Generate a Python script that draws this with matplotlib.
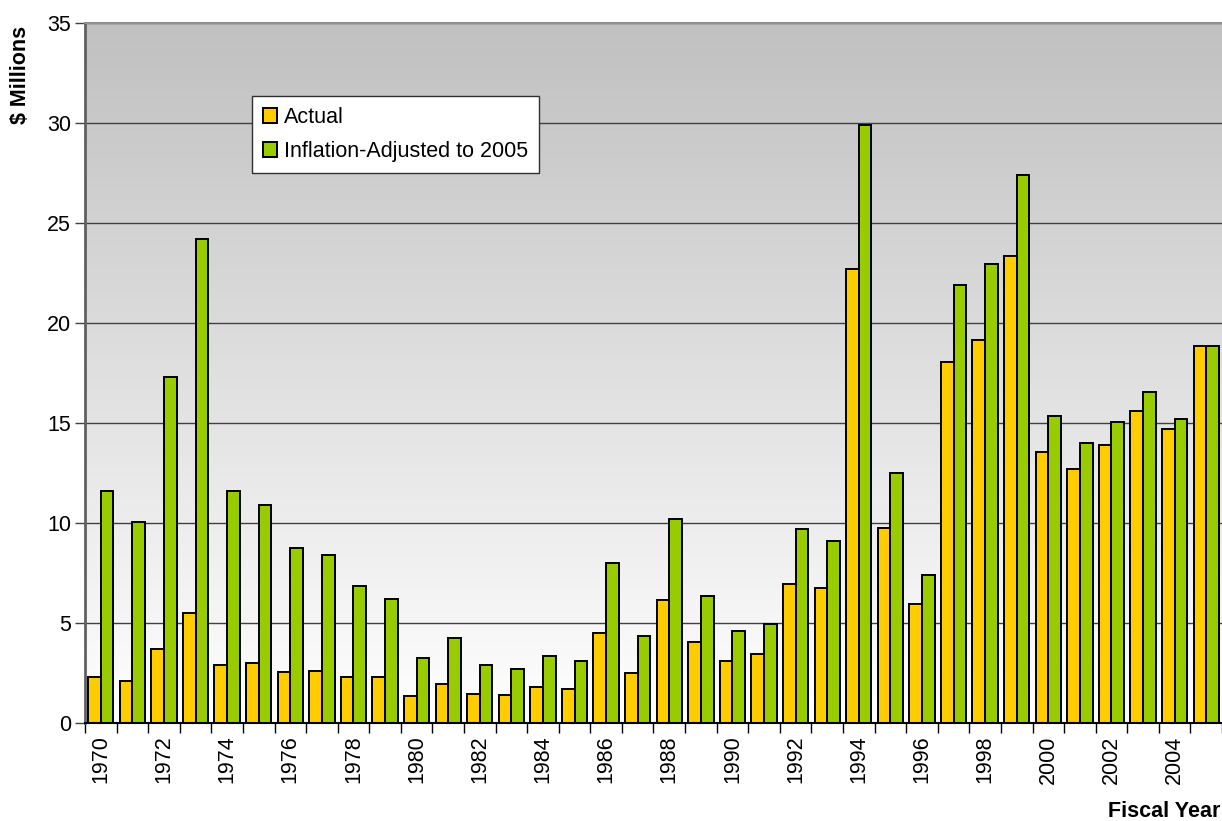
import matplotlib
matplotlib.use("Agg")
import matplotlib.pyplot as plt
import numpy as np

plt.rcParams['font.family'] = ['Liberation Sans', 'DejaVu Sans']

years = list(range(1970, 2006))
actual = [2.3, 2.1, 3.7, 5.5, 2.9, 3.0, 2.55, 2.6, 2.3, 2.3,
          1.37, 1.97, 1.45, 1.38, 1.8, 1.7, 4.52, 2.52, 6.17, 4.03,
          3.08, 3.45, 6.95, 6.73, 22.72, 9.75, 5.93, 18.03, 19.17, 23.35,
          13.55, 12.72, 13.88, 15.6, 14.7, 18.85]
adjusted = [11.6, 10.05, 17.3, 24.2, 11.6, 10.9, 8.75, 8.4, 6.85, 6.2,
            3.25, 4.25, 2.92, 2.7, 3.37, 3.08, 8.0, 4.33, 10.2, 6.33,
            4.58, 4.95, 9.7, 9.1, 29.9, 12.5, 7.38, 21.92, 22.93, 27.4,
            15.37, 14.02, 15.07, 16.55, 15.18, 18.85]
series_labels = ["Actual", "Inflation-Adjusted to 2005"]
yticks = [0, 5, 10, 15, 20, 25, 30, 35]

FS = 15.5
W, H = 1222, 821
fig = plt.figure(figsize=(W / 100, H / 100), dpi=100)
left, right, top, bottom = 85, 1222, 23, 723
ax = fig.add_axes([left / W, 1 - bottom / H, (right - left) / W, (bottom - top) / H])

n = len(years)
x = np.arange(n)
ax.set_xlim(-0.5, n - 0.5)
ax.set_ylim(0, 35)

# gradient background
grad = np.linspace(0, 1, 256).reshape(-1, 1)
ax.imshow(grad, extent=(-0.5, n - 0.5, 0, 35), origin='lower', aspect='auto',
          cmap=matplotlib.colors.LinearSegmentedColormap.from_list('g', ['#ffffff', '#c0c0c0']),
          zorder=0)

for yv in yticks[1:]:
    ax.axhline(yv, color='#404040', lw=1.0, zorder=1)

bw = 0.4
b1 = ax.bar(x - bw / 2, actual, bw, color='#FFCC00', edgecolor='black', lw=1.4, zorder=3,
            label=series_labels[0])
b2 = ax.bar(x + bw / 2, adjusted, bw, color='#99CC00', edgecolor='black', lw=1.4, zorder=3,
            label=series_labels[1])

ax.set_yticks(yticks)
ax.set_yticklabels([str(v) for v in yticks], fontsize=FS)
ax.tick_params(axis='y', length=7, width=1, color='#404040', pad=3)

ax.set_xticks(np.arange(n + 1) - 0.5)
ax.set_xticklabels([])
ax.tick_params(axis='x', which='major', length=7, width=1, color='black')
ax.set_xticks(x[::2], minor=True)
ax.set_xticklabels([str(y) for y in years[::2]], minor=True, rotation=90, fontsize=FS)
ax.tick_params(axis='x', which='minor', length=0, pad=9)

ax.spines['right'].set_visible(False)
ax.spines['top'].set_color('#909090')
ax.spines['top'].set_linewidth(1.5)
ax.spines['left'].set_color('#606060')
ax.spines['left'].set_linewidth(2)
ax.spines['bottom'].set_color('black')
ax.spines['bottom'].set_linewidth(1.5)
for sp in ax.spines.values():
    sp.set_zorder(4)

fig.text(21 / W, 1 - 75 / H, "$ Millions", rotation=90, fontsize=FS, fontweight='bold',
         ha='center', va='center')
fig.text(1220 / W, 1 - 817 / H, "Fiscal Year", fontsize=FS, fontweight='bold',
         ha='right', va='baseline')

leg = fig.legend(handles=[b1, b2], labels=series_labels,
                 loc='upper left', bbox_to_anchor=(252 / W, 1 - 96 / H),
                 fontsize=FS, frameon=True, fancybox=False, framealpha=1,
                 edgecolor='#303030', handlelength=0.68, handleheight=0.68,
                 handletextpad=0.3, borderpad=0.5, labelspacing=0.62, borderaxespad=0)
leg.get_frame().set_linewidth(1.0)

fig.savefig("out.png", dpi=100)
